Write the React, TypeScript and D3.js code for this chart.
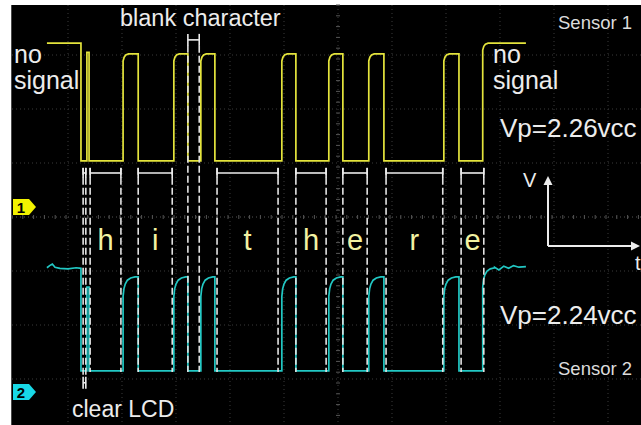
import React from 'react'
import * as d3 from 'd3'

const W = 641
const H = 425

// time in screen divisions, level in divisions from centre
const traceStart = 0.61
const traceEnd = 9.48
const clearDrop = 1.24
const spike = [1.35, 1.39]
const pulseRise = [2.02, 2.96, 3.46, 4.96, 5.83, 6.57, 7.96]
const pulseFall = [2.30, 3.22, 3.72, 5.22, 6.09, 6.85, 8.24]
const finalRise = 8.68

const ch1 = { idle: 3.22, high: 3.02, low: 1.04, spike: 3.05 }
const ch2 = { idle: -0.94, high: -1.11, low: -2.85, spike: -1.3 }

// corner of a rising edge: [dt, dv below top]
const yellowCorner = [[0, 0.13], [0.02, 0.06], [0.05, 0.02], [0.1, 0]]
const cyanCorner = [[0, 0.36], [0.015, 0.22], [0.04, 0.13], [0.08, 0.06], [0.14, 0.02], [0.22, 0]]

const cyanLead = [[0.61, -0.94], [0.66, -0.9], [0.71, -0.87], [0.76, -0.93], [0.85, -0.95], [1.0, -0.96], [1.15, -0.94], [1.24, -0.95]]
const cyanTail = [[8.9, -0.93], [8.98, -0.98], [9.07, -0.91], [9.16, -0.95], [9.25, -0.9], [9.35, -0.93], [9.48, -0.92]]

const charLabels = ['h', 'i', '', 't', 'h', 'e', 'r', 'e']
const charStart = [1.41, 2.30, 3.22, 3.76, 5.22, 6.09, 6.89, 8.28]
const charEnd = [1.98, 2.93, 3.43, 4.89, 5.78, 6.54, 7.94, 8.70]
const clearLcd = [1.28, 1.33]

const xGrid = d3.range(1, 12)
const yGrid = d3.range(-3, 4)

const x = d3.scaleLinear().domain([0, 12]).range([14, 662])
const y = d3.scaleLinear().domain([-4, 4]).range([433, 1])

function tracePoints(lv: any, corner: number[][], lead: number[][] | null, tail: number[][] | null) {
  const pts: [number, number][] = []
  if (lead) lead.forEach(p => pts.push([p[0], p[1]]))
  else { pts.push([traceStart, lv.idle]); pts.push([clearDrop, lv.idle]) }
  pts.push([clearDrop, lv.low])
  pts.push([spike[0], lv.low]); pts.push([spike[0], lv.spike])
  pts.push([spike[1], lv.spike]); pts.push([spike[1], lv.low])
  pulseRise.forEach((r, i) => {
    pts.push([r, lv.low])
    corner.forEach(c => pts.push([r + c[0], lv.high - c[1]]))
    pts.push([pulseFall[i], lv.high])
    pts.push([pulseFall[i], lv.low])
  })
  pts.push([finalRise, lv.low])
  corner.forEach(c => pts.push([finalRise + c[0], lv.idle - c[1]]))
  if (tail) tail.forEach(p => pts.push([p[0], p[1]]))
  else pts.push([traceEnd, lv.idle])
  return pts
}

const line = d3.line<[number, number]>().x(d => x(d[0])).y(d => y(d[1]))

const white = '#ececec'
const font = 'Liberation Sans, Arial, sans-serif'

function Bracket({ a, b, v, cap = 5 }: { a: number, b: number, v: number, cap?: number }) {
  const yy = y(v)
  return (
    <g stroke={white} strokeWidth={1.6}>
      <line x1={x(a)} x2={x(b)} y1={yy} y2={yy} />
      <line x1={x(a)} x2={x(a)} y1={yy - cap} y2={yy + cap} />
      <line x1={x(b)} x2={x(b)} y1={yy - cap} y2={yy + cap} />
    </g>
  )
}

function Tag({ v, label, color }: { v: number, label: string, color: string }) {
  const yy = y(v)
  return (
    <g>
      <path d={`M13,${yy - 8}H29L36,${yy}L29,${yy + 8}H13Z`} fill={color} />
      <text x={21} y={yy + 5.5} fontSize={15} fontWeight="bold" fontFamily={font} textAnchor="middle" fill="#000">{label}</text>
    </g>
  )
}

export default function App() {
  const yellow = tracePoints(ch1, yellowCorner, null, null)
  const cyan = tracePoints(ch2, cyanCorner, cyanLead, cyanTail)
  const dashTop = 0.91
  const dashBottom = -2.87
  const cx = 14 + 54 * 6
  return (
    <svg width={W} height={H} style={{ position: 'absolute', left: 0, top: 0 }}>
      <rect width={W} height={H} fill="#fff" />
      <rect x={11} y={5} width={W - 11} height={H - 5} fill="#000" />
      <line x1={11.5} x2={11.5} y1={5} y2={H} stroke="#4a4a4a" />
      <g stroke="#3a3a3a" strokeWidth={1} strokeDasharray="1 3">
        {xGrid.map(g => <line key={'x' + g} x1={x(g)} x2={x(g)} y1={5} y2={H} />)}
        {yGrid.map(g => <line key={'y' + g} x1={12} x2={W} y1={y(g)} y2={y(g)} stroke={g === 0 ? '#555' : '#3a3a3a'} />)}
      </g>
      <g stroke="#555" strokeWidth={1}>
        {d3.range(12, W, 10.8).map(t => <line key={'t' + t} x1={t} x2={t} y1={y(0) - 2} y2={y(0) + 2} />)}
        {d3.range(5, H, 10.8).map(t => <line key={'u' + t} x1={cx - 2} x2={cx + 2} y1={t} y2={t} />)}
      </g>

      <path d={line(yellow) || ''} fill="none" stroke="#e4e43c" strokeWidth={1.7} />
      <path d={line(cyan) || ''} fill="none" stroke="#22c8c4" strokeWidth={1.7} />

      <g stroke="#e2e2e2" strokeWidth={1.6} strokeDasharray="7 3">
        {charStart.map((s, i) => {
          const top = charLabels[i] === '' ? 3.17 : dashTop
          return (
            <g key={'d' + i}>
              <line x1={x(s)} x2={x(s)} y1={y(top)} y2={y(dashBottom)} />
              <line x1={x(charEnd[i])} x2={x(charEnd[i])} y1={y(top)} y2={y(dashBottom)} />
            </g>
          )
        })}
        {clearLcd.map((s, i) => <line key={'c' + i} x1={x(s)} x2={x(s)} y1={y(dashTop)} y2={y(-2.97)} />)}
      </g>

      {charStart.map((s, i) => charLabels[i] === ''
        ? <Bracket key={'b' + i} a={s} b={charEnd[i]} v={3.28} cap={6} />
        : <Bracket key={'b' + i} a={s} b={charEnd[i]} v={0.815} />)}
      <Bracket a={clearLcd[0]} b={clearLcd[1]} v={0.815} />
      <Bracket a={clearLcd[0]} b={clearLcd[1]} v={-3.07} cap={6} />

      <g fontFamily={font} fontSize={29} fill="#f2f2a2" textAnchor="middle">
        {charLabels.map((c, i) => <text key={'l' + i} x={(x(charStart[i]) + x(charEnd[i])) / 2} y={250}>{c}</text>)}
      </g>

      <g fontFamily={font} fill={white}>
        <text x={120} y={26} fontSize={23.5}>blank character</text>
        <text x={14} y={63} fontSize={25}>no</text>
        <text x={14} y={89} fontSize={25}>signal</text>
        <text x={493} y={63} fontSize={25}>no</text>
        <text x={493} y={89} fontSize={25}>signal</text>
        <text x={558} y={29} fontSize={18.5} fill="#dcdcdc">Sensor 1</text>
        <text x={500} y={137} fontSize={26}>Vp=2.26vcc</text>
        <text x={500} y={324} fontSize={26}>Vp=2.24vcc</text>
        <text x={558} y={375} fontSize={18.5} fill="#dcdcdc">Sensor 2</text>
        <text x={72} y={417} fontSize={23}>clear LCD</text>
        <text x={523} y={187} fontSize={20}>V</text>
        <text x={635} y={270} fontSize={20}>t</text>
      </g>

      <g stroke={white} strokeWidth={2} fill="none">
        <line x1={548} x2={548} y1={180} y2={246} />
        <line x1={548} x2={634} y1={246} y2={246} />
      </g>
      <path d="M548,176L543.5,185H552.5Z" fill={white} />
      <path d="M640,246L631,241.5V250.5Z" fill={white} />

      <Tag v={(217 - 207) / 54} label="1" color="#f2f200" />
      <Tag v={(217 - 392) / 54} label="2" color="#18d8e6" />
    </svg>
  )
}
